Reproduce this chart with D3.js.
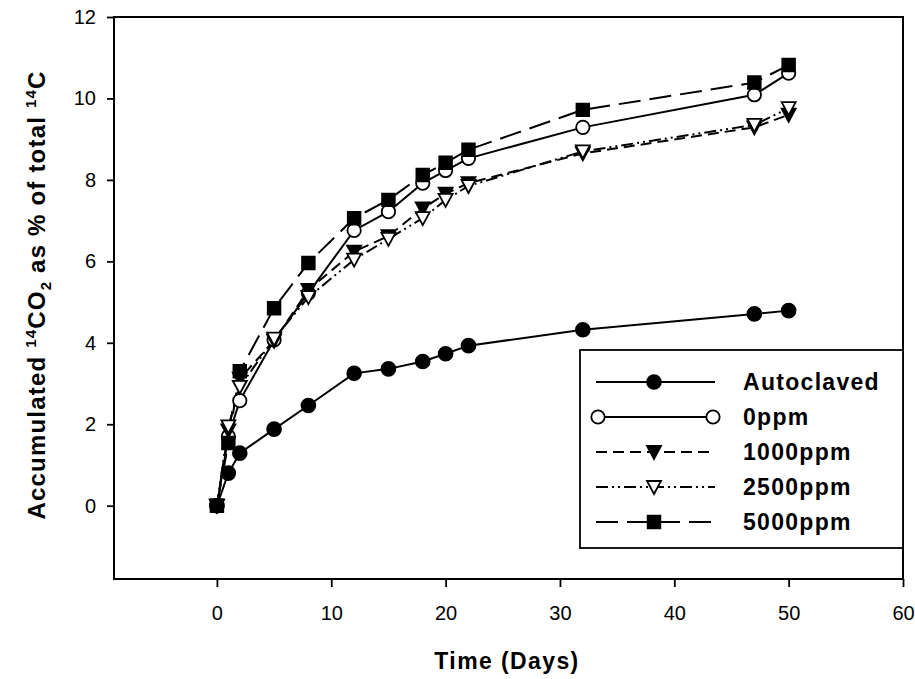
<!DOCTYPE html>
<html lang="en">
<head>
<meta charset="utf-8">
<script src="https://d3js.org/d3.v7.min.js"></script>
<style>
  body { margin: 0; background: #fff; }
  svg { display: block; font-family: "Liberation Sans", Arial, sans-serif; }
</style>
</head>
<body>
<svg id="chart" width="915" height="679"></svg>
<script>
// data
var days = [0, 1, 2, 5, 8, 12, 15, 18, 20, 22, 32, 47, 50];
var autoclaved = [0, 0.8, 1.29, 1.88, 2.46, 3.25, 3.36, 3.54, 3.73, 3.93, 4.32, 4.71, 4.79];
var ppm0 = [0, 1.7, 2.58, 4.07, 5.22, 6.76, 7.22, 7.92, 8.23, 8.53, 9.29, 10.09, 10.62];
var ppm1000 = [0, 1.85, 3.12, 4.05, 5.3, 6.24, 6.62, 7.3, 7.66, 7.92, 8.65, 9.29, 9.6];
var ppm2500 = [0, 1.95, 2.92, 4.1, 5.12, 6.04, 6.55, 7.06, 7.51, 7.85, 8.7, 9.35, 9.76];
var ppm5000 = [0, 1.54, 3.3, 4.85, 5.96, 7.06, 7.51, 8.12, 8.42, 8.74, 9.72, 10.39, 10.82];
var seriesNames = ["Autoclaved", "0ppm", "1000ppm", "2500ppm", "5000ppm"];
var xTicks = [0, 10, 20, 30, 40, 50, 60];
var yTicks = [0, 2, 4, 6, 8, 10, 12];

var svg = d3.select("#chart");
var plotL = 114, plotR = 903, plotT = 17, plotB = 579;

var x = d3.scaleLinear().domain([-9, 60]).range([plotL, plotR]);
var y = d3.scaleLinear().domain([-1.8, 12]).range([plotB, plotT]);

// styles per series
var styles = [
  { vals: autoclaved, dash: null, sym: d3.symbolCircle, size: 150, fill: "#000" },
  { vals: ppm0, dash: null, sym: d3.symbolCircle, size: 140, fill: "#fff" },
  { vals: ppm1000, dash: "11,6", sym: "tri", fill: "#000" },
  { vals: ppm2500, dash: "12,4,2,4,2,4", sym: "tri", fill: "#fff" },
  { vals: ppm5000, dash: "22,9", sym: d3.symbolSquare, size: 160, fill: "#000" }
];

function marker(g, s, cx, cy) {
  var d = s.sym === "tri" ? "M-7,-6L7,-6L0,7Z" : d3.symbol().type(s.sym).size(s.size)();
  g.append("path")
    .attr("d", d)
    .attr("transform", "translate(" + cx + "," + cy + ")")
    .attr("fill", s.fill).attr("stroke", "#000").attr("stroke-width", 1.8);
}

// frame
svg.append("rect")
  .attr("x", plotL).attr("y", plotT)
  .attr("width", plotR - plotL).attr("height", plotB - plotT)
  .attr("fill", "none").attr("stroke", "#000").attr("stroke-width", 2);

// axes
var xAxis = svg.append("g")
  .attr("transform", "translate(0," + plotB + ")")
  .call(d3.axisBottom(x).tickValues(xTicks).tickSize(8).tickPadding(19).tickFormat(d3.format("d")));
var yAxis = svg.append("g")
  .attr("transform", "translate(" + plotL + ",0)")
  .call(d3.axisLeft(y).tickValues(yTicks).tickSize(7).tickPadding(11).tickFormat(d3.format("d")));
[xAxis, yAxis].forEach(function (a) {
  a.select(".domain").remove();
  a.selectAll("line").attr("stroke", "#000").attr("stroke-width", 1.8);
  a.selectAll("text").attr("fill", "#000").style("font-size", "20px")
    .style("font-family", "'Liberation Sans', Arial, sans-serif");
});

// series
var line = d3.line().x(function (d) { return x(d[0]); }).y(function (d) { return y(d[1]); });
var plot = svg.append("g");
styles.forEach(function (s) {
  var pts = days.map(function (d, i) { return [d, s.vals[i]]; });
  plot.append("path")
    .attr("d", line(pts))
    .attr("fill", "none").attr("stroke", "#000").attr("stroke-width", 2)
    .attr("stroke-dasharray", s.dash);
});
styles.forEach(function (s) {
  var g = plot.append("g");
  days.forEach(function (d, i) { marker(g, s, x(d), y(s.vals[i])); });
});

// legend
var leg = svg.append("g");
leg.append("rect")
  .attr("x", 580).attr("y", 350).attr("width", plotR - 580).attr("height", 198)
  .attr("fill", "#fff").attr("stroke", "#000").attr("stroke-width", 1.8);
styles.forEach(function (s, i) {
  var ry = 382 + i * 35;
  leg.append("line")
    .attr("x1", 596).attr("x2", 715).attr("y1", ry).attr("y2", ry)
    .attr("stroke", "#000").attr("stroke-width", 2).attr("stroke-dasharray", s.dash);
  if (i === 1) {
    marker(leg, s, 598, ry);
    marker(leg, s, 713, ry);
  } else {
    marker(leg, s, 654, ry);
  }
  leg.append("text")
    .attr("x", 743).attr("y", ry + 8)
    .style("font-size", "23px").style("font-weight", "bold").style("letter-spacing", "1.3px")
    .text(seriesNames[i]);
});

// axis titles
svg.append("text")
  .attr("x", 507).attr("y", 669)
  .attr("text-anchor", "middle")
  .style("font-size", "23px").style("font-weight", "bold").style("letter-spacing", "1.4px")
  .text("Time (Days)");

var yl = svg.append("text")
  .attr("transform", "translate(45,295) rotate(-90)")
  .attr("text-anchor", "middle")
  .style("font-size", "24px").style("font-weight", "bold").style("letter-spacing", "1.2px");
yl.append("tspan").text("Accumulated ");
yl.append("tspan").attr("dy", -9).style("font-size", "15px").text("14");
yl.append("tspan").attr("dy", 9).text("CO");
yl.append("tspan").attr("dy", 6).style("font-size", "15px").text("2");
yl.append("tspan").attr("dy", -6).text(" as % of total ");
yl.append("tspan").attr("dy", -9).style("font-size", "15px").text("14");
yl.append("tspan").attr("dy", 9).text("C");
</script>
</body>
</html>
